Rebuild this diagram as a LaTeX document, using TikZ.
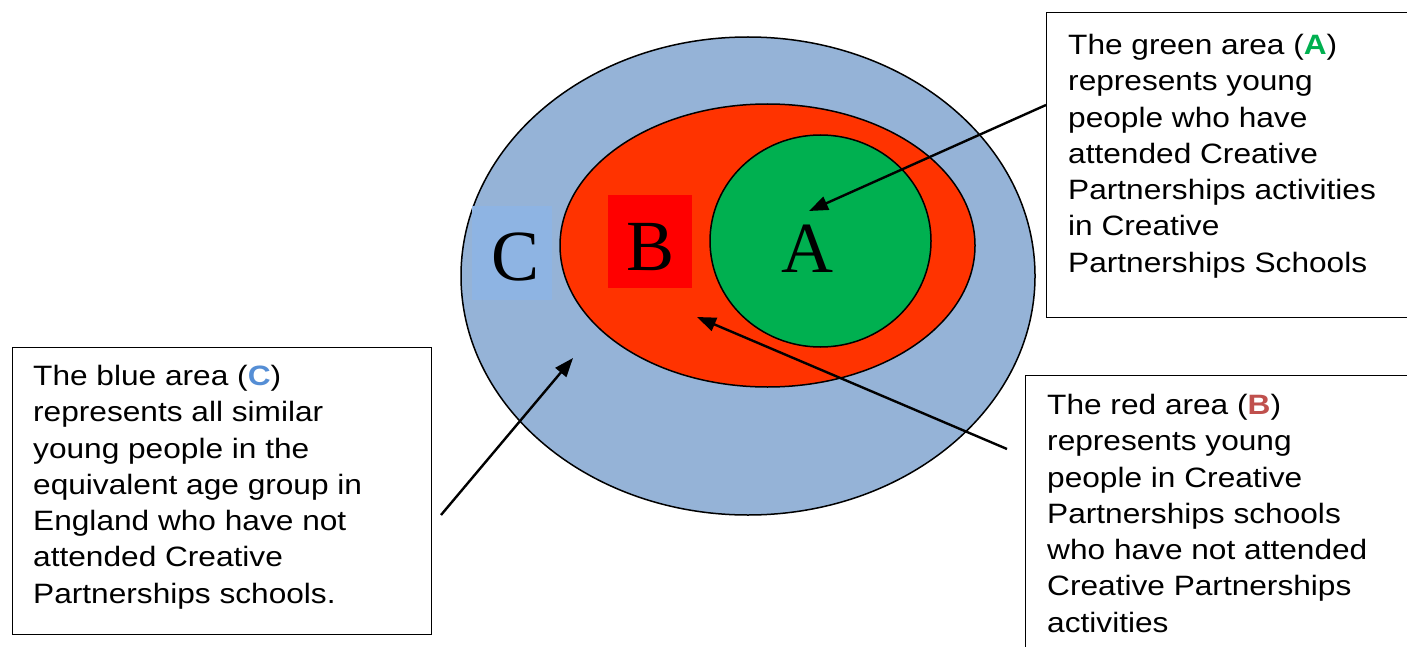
\documentclass[tikz,border=0pt]{standalone}
\usepackage{fontspec}
\setmainfont{Liberation Sans}[FakeStretch=1.13]
\newfontfamily\serifbig{Liberation Serif}
\usetikzlibrary{positioning}
\usetikzlibrary{calc}
\usetikzlibrary{arrows.meta}
\definecolor{outerblue}{HTML}{95B3D7}
\definecolor{midred}{HTML}{FF3300}
\definecolor{innergreen}{HTML}{00B050}
\definecolor{patchblue}{HTML}{8EB4E3}
\definecolor{patchred}{HTML}{FF0000}
\definecolor{keyred}{HTML}{C0504D}
\definecolor{keyblue}{HTML}{558ED5}

\tikzset{
  frame/.style={draw, line width=1.3pt, anchor=north west, inner sep=0pt},
  note/.style={anchor=north west, inner sep=0pt, align=left,
    font=\fontsize{28}{36.3}\selectfont},
  pointer/.style={line width=2.4pt, -{Triangle[length=19pt,width=14pt]}},
  bigletter/.style={font=\serifbig\fontsize{72}{72}\selectfont}
}

\begin{document}
\begin{tikzpicture}[x=1pt, y=-1pt]
    \useasboundingbox (0,0) rectangle (1407,647);

    % nested areas
    \draw[fill=outerblue, line width=1.5pt] (748,276) ellipse (287 and 239);
    \draw[fill=midred, line width=1.5pt] (767.5,245.5) ellipse (207.5 and 141.5);
    \draw[fill=innergreen, line width=1.5pt] (820.5,241) ellipse (110.5 and 106);
    \fill[patchblue] (472,206) rectangle (552,300);
    \fill[patchred] (608,195) rectangle (692,288);
    \node[bigletter] (lc) at (516,257) {C};
    \node[bigletter] (lb) at (651,247) {B};
    \node[bigletter] (la) at (807,249) {A};

    % explanation boxes
    \node[frame, minimum width=370pt, minimum height=305pt] (gbox) at (1046,12) {};
    \node[note] (gtext) at ($(gbox.north west)+(22,22)$)
        {The green area (\textcolor{innergreen}{\textbf{A}})\\represents young\\people who have\\attended Creative\\Partnerships activities\\in Creative\\Partnerships Schools};
    \node[frame, minimum width=400pt, minimum height=300pt] (rbox) at (1025,375) {};
    \node[note] (rtext) at ($(rbox.north west)+(22,19)$)
        {The red area (\textcolor{keyred}{\textbf{B}})\\represents young\\people in Creative\\Partnerships schools\\who have not attended\\Creative Partnerships\\activities};
    \node[frame, minimum width=419pt, minimum height=287pt] (bbox) at (12,347) {};
    \node[note] (btext) at ($(bbox.north west)+(21,18)$)
        {The blue area (\textcolor{keyblue}{\textbf{C}})\\represents all similar\\young people in the\\equivalent age group in\\England who have not\\attended Creative\\Partnerships schools.};

    % pointers
    \coordinate (gfrom) at (1046,105);
    \coordinate (gto) at (809,211);
    \coordinate (rfrom) at (1007,449);
    \coordinate (rto) at (697,317);
    \coordinate (bfrom) at (441,515);
    \coordinate (bto) at (573,358);
    \draw[pointer] (gfrom) -- (gto);
    \draw[pointer] (rfrom) -- (rto);
    \draw[pointer] (bfrom) -- (bto);
\end{tikzpicture}
\end{document}
